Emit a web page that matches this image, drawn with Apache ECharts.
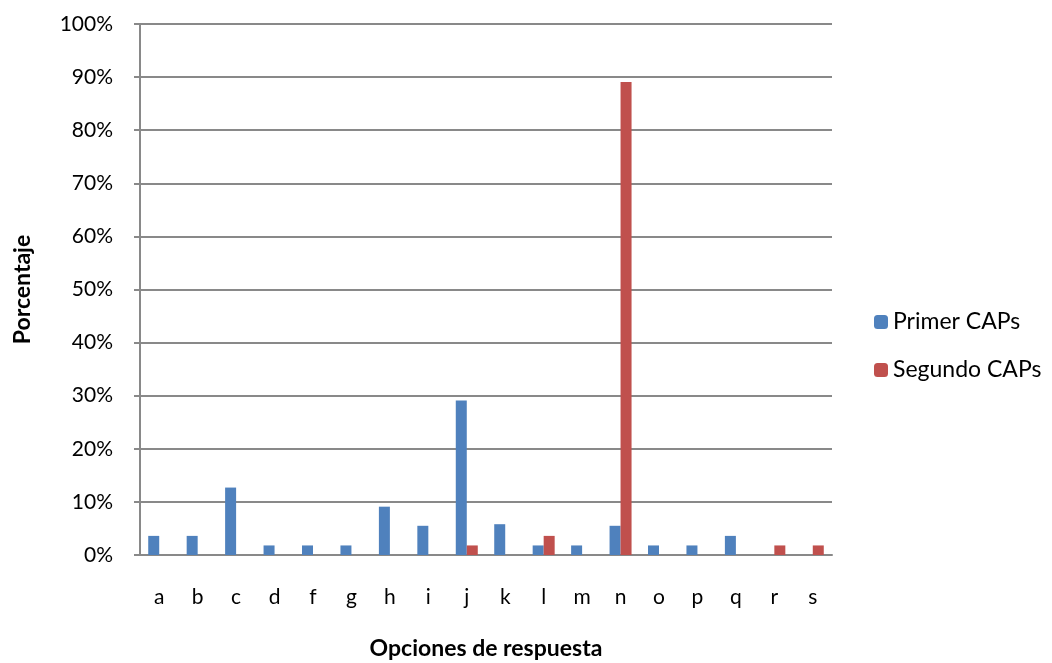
<!DOCTYPE html>
<html><head><meta charset="utf-8">
<script src="https://cdn.jsdelivr.net/npm/echarts@6/dist/echarts.min.js"></script>
<style>html,body{margin:0;padding:0;background:#fff}#c{width:1052px;height:663px}</style>
</head><body><div id="c"></div>
<script>
const categories = ['a','b','c','d','f','g','h','i','j','k','l','m','n','o','p','q','r','s'];
const primer = [3.6,3.6,12.7,1.8,1.8,1.8,9.1,5.5,29.1,5.8,1.8,1.8,5.5,1.8,1.8,3.6,0,0];
const segundo = [0,0,0,0,0,0,0,0,1.8,0,3.6,0,89.1,0,0,0,1.8,1.8];
const seriesNames = ['Primer CAPs','Segundo CAPs'];
const yTicks = [0,10,20,30,40,50,60,70,80,90,100];

const font = 'Lato, Open Sans, sans-serif';
const chart = echarts.init(document.getElementById('c'));
chart.setOption({
  animation:false,
  backgroundColor:'#fff',
  grid:{left:140,right:220,top:24,bottom:108,containLabel:false,outerBoundsMode:'none'},
  legend:{
    orient:'vertical', left:874, top:310, itemWidth:14, itemHeight:14, itemGap:24,
    padding:0,
    textStyle:{fontFamily:font,fontSize:23,lineHeight:24,color:'#000'},
    data:seriesNames
  },
  xAxis:{
    type:'category', data:categories,
    name:'Opciones de respuesta', nameLocation:'middle', nameGap:82,
    nameTextStyle:{fontFamily:font,fontSize:23,fontWeight:'bold',color:'#000'},
    axisLine:{lineStyle:{color:'#898989',width:2}},
    axisTick:{show:false},
    axisLabel:{fontFamily:font,fontSize:21,color:'#000',margin:32}
  },
  yAxis:{
    type:'value', min:0, max:100, interval:10,
    name:'Porcentaje', nameLocation:'middle', nameGap:106, nameRotate:90,
    nameTextStyle:{fontFamily:font,fontSize:23,fontWeight:'bold',color:'#000'},
    axisLine:{show:true,lineStyle:{color:'#898989',width:2}},
    axisTick:{show:true,length:6,lineStyle:{color:'#898989',width:2}},
    splitLine:{lineStyle:{color:'#898989',width:2}},
    axisLabel:{fontFamily:font,fontSize:21,color:'#000',margin:27,
      formatter:v=> yTicks.includes(v) ? v+'%' : ''}
  },
  series:[
    {name:seriesNames[0],type:'bar',data:primer,barWidth:11,barGap:'0%',
     itemStyle:{color:'#4f81bd'}},
    {name:seriesNames[1],type:'bar',data:segundo,barWidth:11,barGap:'0%',
     itemStyle:{color:'#c0504d'}}
  ]
});
</script></body></html>
